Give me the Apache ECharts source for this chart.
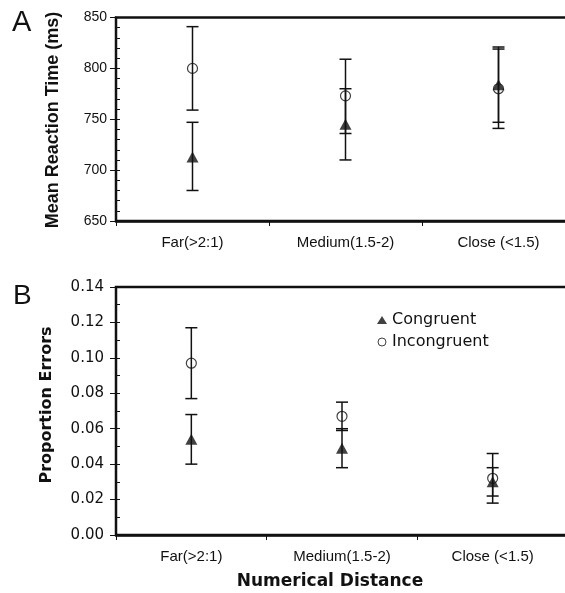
<!DOCTYPE html>
<html>
<head>
<meta charset="utf-8">
<script src="https://cdn.jsdelivr.net/npm/echarts@6/dist/echarts.min.js"></script>
<style>
  html, body { margin: 0; padding: 0; background: #fff; }
  #main { width: 565px; height: 593px; }
</style>
</head>
<body>
<div id="main"></div>
<script>
// categories
var categories = ['Far(>2:1)', 'Medium(1.5-2)', 'Close (<1.5)'];

// panel A: mean reaction time (ms)
var rtCongruent = [713, 745, 784];
var rtCongruentLow = [680, 710, 747];
var rtCongruentHigh = [747, 780, 821];
var rtIncongruent = [800, 773, 780];
var rtIncongruentLow = [759, 736, 741];
var rtIncongruentHigh = [841, 809, 819];

// panel B: proportion errors
var errCongruent = [0.054, 0.049, 0.030];
var errCongruentLow = [0.040, 0.038, 0.022];
var errCongruentHigh = [0.068, 0.060, 0.038];
var errIncongruent = [0.097, 0.067, 0.032];
var errIncongruentLow = [0.077, 0.059, 0.018];
var errIncongruentHigh = [0.117, 0.075, 0.046];

var ink = '#111';

function bars(low, high) {
    return low.map(function (v, i) { return [i, v, high[i]]; });
}
function pts(vals) {
    return vals.map(function (v, i) { return [i, v]; });
}

function errorSeries(xi, yi, data) {
    return {
        type: 'custom',
        xAxisIndex: xi,
        yAxisIndex: yi,
        z: 1,
        silent: true,
        renderItem: function (params, api) {
            var lo = api.coord([api.value(0), api.value(1)]);
            var hi = api.coord([api.value(0), api.value(2)]);
            var w = 6;
            var st = { stroke: ink, lineWidth: 1.5 };
            return {
                type: 'group',
                children: [
                    { type: 'line', shape: { x1: lo[0], y1: lo[1], x2: hi[0], y2: hi[1] }, style: st },
                    { type: 'line', shape: { x1: lo[0] - w, y1: lo[1], x2: lo[0] + w, y2: lo[1] }, style: st },
                    { type: 'line', shape: { x1: hi[0] - w, y1: hi[1], x2: hi[0] + w, y2: hi[1] }, style: st }
                ]
            };
        },
        data: data
    };
}

function circleSeries(xi, yi, data) {
    return {
        name: 'Incongruent',
        type: 'scatter',
        xAxisIndex: xi,
        yAxisIndex: yi,
        z: 2,
        symbol: 'circle',
        symbolSize: 10,
        itemStyle: { color: 'rgba(0,0,0,0)', borderColor: ink, borderWidth: 1.2 },
        data: data
    };
}

function triangleSeries(xi, yi, data) {
    return {
        name: 'Congruent',
        type: 'scatter',
        xAxisIndex: xi,
        yAxisIndex: yi,
        z: 3,
        symbol: 'triangle',
        symbolSize: [12, 11],
        itemStyle: { color: ink },
        data: data
    };
}

function xAxisFor(gi) {
    return {
        type: 'category',
        gridIndex: gi,
        data: categories,
        boundaryGap: true,
        axisLine: { lineStyle: { color: ink, width: 2.5 } },
        axisTick: { show: true, length: 5, lineStyle: { color: ink, width: 1 } },
        axisLabel: { color: ink, fontFamily: 'Liberation Sans', fontSize: 15, margin: 14 },
        splitLine: { show: false }
    };
}

var chart = echarts.init(document.getElementById('main'));

var option = {
    animation: false,
    backgroundColor: '#fff',
    grid: [
        { left: 116, top: 17.5, width: 459, height: 203.5, outerBoundsMode: 'none', containLabel: false,
          show: true, borderColor: ink, borderWidth: 2.5 },
        { left: 116, top: 287, width: 452, height: 248, outerBoundsMode: 'none', containLabel: false,
          show: true, borderColor: ink, borderWidth: 2.5 }
    ],
    xAxis: [xAxisFor(0), xAxisFor(1)],
    yAxis: [
        {
            type: 'value', gridIndex: 0, position: 'left', min: 650, max: 850, interval: 50,
            axisLine: { show: true, lineStyle: { color: ink, width: 2 } },
            axisTick: { show: true, length: 6, lineStyle: { color: ink, width: 1 } },
            axisLabel: { color: ink, fontFamily: 'Liberation Sans', fontSize: 14, margin: 9 },
            splitLine: { show: false }
        },
        {
            type: 'value', gridIndex: 0, position: 'left', offset: 0, min: 650, max: 850, interval: 10,
            axisLine: { show: false },
            axisTick: { show: true, inside: true, length: 4, lineStyle: { color: ink, width: 1 } },
            axisLabel: { show: false },
            splitLine: { show: false }
        },
        {
            type: 'value', gridIndex: 1, position: 'left', min: 0, max: 0.14, interval: 0.02,
            axisLine: { show: true, lineStyle: { color: ink, width: 2 } },
            axisTick: { show: true, length: 6, lineStyle: { color: ink, width: 1 } },
            axisLabel: {
                color: ink, fontFamily: 'DejaVu Sans', fontSize: 15, margin: 12,
                formatter: function (v) { return v.toFixed(2); }
            },
            splitLine: { show: false }
        },
        {
            type: 'value', gridIndex: 1, position: 'left', offset: 0, min: 0, max: 0.14, interval: 0.01,
            axisLine: { show: false },
            axisTick: { show: true, inside: true, length: 4, lineStyle: { color: ink, width: 1 } },
            axisLabel: { show: false },
            splitLine: { show: false }
        }
    ],
    legend: {
        orient: 'vertical',
        left: 372,
        top: 307,
        itemWidth: 10,
        itemHeight: 8,
        itemGap: 6,
        selectedMode: false,
        textStyle: { color: ink, fontFamily: 'DejaVu Sans', fontSize: 16, padding: [0, 0, 0, 0] },
        data: [
            { name: 'Congruent', icon: 'triangle', itemStyle: { color: ink } },
            { name: 'Incongruent', icon: 'circle', itemStyle: { color: '#fff', borderColor: ink, borderWidth: 1 } }
        ]
    },
    graphic: [
        { type: 'text', left: 12, top: 8, style: { text: 'A', font: '29px "Liberation Sans"', fill: ink } },
        { type: 'text', left: 13, top: 282, style: { text: 'B', font: '28px "Liberation Sans"', fill: ink } },
        {
            type: 'text', x: 53, y: 120, rotation: Math.PI / 2,
            style: { text: 'Mean Reaction Time (ms)', font: 'bold 18px "Liberation Sans"', fill: ink, align: 'center', verticalAlign: 'middle' }
        },
        {
            type: 'text', x: 47, y: 405, rotation: Math.PI / 2,
            style: { text: 'Proportion Errors', font: 'bold 16px "DejaVu Sans"', fill: ink, align: 'center', verticalAlign: 'middle' }
        },
        {
            type: 'text', x: 330, y: 582,
            style: { text: 'Numerical Distance', font: 'bold 17px "DejaVu Sans"', fill: ink, align: 'center', verticalAlign: 'middle' }
        }
    ],
    series: [
        errorSeries(0, 0, bars(rtIncongruentLow, rtIncongruentHigh)),
        errorSeries(0, 0, bars(rtCongruentLow, rtCongruentHigh)),
        circleSeries(0, 0, pts(rtIncongruent)),
        triangleSeries(0, 0, pts(rtCongruent)),
        errorSeries(1, 2, bars(errIncongruentLow, errIncongruentHigh)),
        errorSeries(1, 2, bars(errCongruentLow, errCongruentHigh)),
        circleSeries(1, 2, pts(errIncongruent)),
        triangleSeries(1, 2, pts(errCongruent))
    ]
};

chart.setOption(option);
</script>
</body>
</html>
